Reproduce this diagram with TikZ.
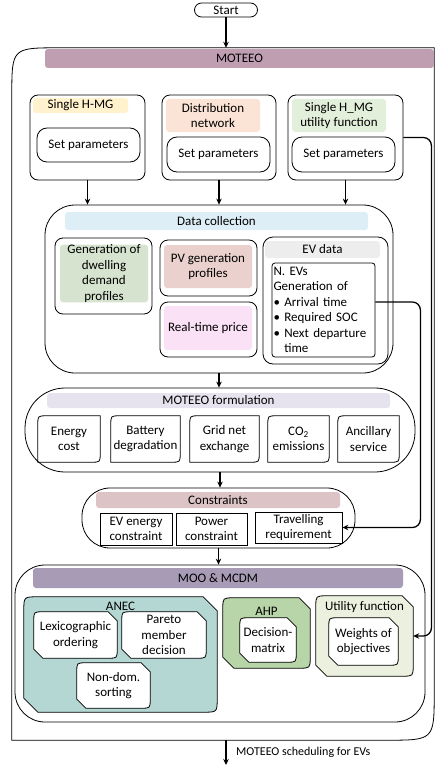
\documentclass[tikz,border=0pt]{standalone}
\usepackage{fontspec}
\setmainfont{Carlito}
\usetikzlibrary{calc,arrows.meta,backgrounds}

\definecolor{moteeoC}{RGB}{192,158,178}
\definecolor{hmgC}{RGB}{255,242,204}
\definecolor{dnC}{RGB}{251,228,213}
\definecolor{ufC}{RGB}{226,239,218}
\definecolor{dcC}{RGB}{222,238,246}
\definecolor{demC}{RGB}{214,227,207}
\definecolor{pvC}{RGB}{234,209,205}
\definecolor{rtpC}{RGB}{250,225,245}
\definecolor{evC}{RGB}{237,237,237}
\definecolor{fmC}{RGB}{230,227,239}
\definecolor{ctC}{RGB}{220,195,198}
\definecolor{mooC}{RGB}{167,155,182}
\definecolor{anecC}{RGB}{181,215,211}
\definecolor{ahpC}{RGB}{183,213,168}
\definecolor{ufnC}{RGB}{235,241,222}

% outline with rounded top-left and bottom-right corners
\newcommand{\rdiag}[3][]{%
  \draw[line width=0.8pt, #1] ($(#2.north west)+(0,#3)$) .. controls (#2.north west) .. ($(#2.north west)+(#3,0)$)
    -- (#2.north east) -- ($(#2.south east)+(0,-#3)$) .. controls (#2.south east) .. ($(#2.south east)+(-#3,0)$)
    -- (#2.south west) -- cycle;}
% outline with rounded top-left/bottom-right and snipped top-right/bottom-left
\newcommand{\snipround}[3][]{%
  \begin{pgfonlayer}{background}
  \filldraw[line width=0.8pt, #1] ($(#2.north west)+(0,#3)$) .. controls (#2.north west) .. ($(#2.north west)+(#3,0)$)
    -- ($(#2.north east)+(-#3,0)$) -- ($(#2.north east)+(0,#3)$)
    -- ($(#2.south east)+(0,-#3)$) .. controls (#2.south east) .. ($(#2.south east)+(-#3,0)$)
    -- ($(#2.south west)+(#3,0)$) -- ($(#2.south west)+(0,-#3)$) -- cycle;
  \end{pgfonlayer}}

\begin{document}
\begin{tikzpicture}[x=1pt, y=-1pt,
  font=\fontsize{13}{15.5}\selectfont,
  box/.style={draw, rounded corners=#1, line width=0.8pt, inner sep=0pt, align=center},
  box/.default=8pt,
  bar/.style={fill=#1, rounded corners=3pt, inner sep=0pt, align=center},
  plain/.style={inner sep=0pt, align=center},
  sz/.style 2 args={minimum width=#1pt, minimum height=#2pt},
  arr/.style={-{Stealth[length=6pt,width=5.5pt]}, line width=1.3pt}
]
\useasboundingbox (0,0) rectangle (434,765);

% Start and outer frame
\node[box=7pt, sz={63}{14}] (start) at (226,10) {Start};
\node[plain, sz={422}{692}] (frame) at (223,394) {};
\rdiag{frame}{48}
\node[bar=moteeoC, sz={389}{19}] (moteeo) at (239.5,58.5) {MOTEEO};
\draw[arr] (start.south) -- (start.south |- frame.north);

% Row of parameter boxes
\node[box, sz={115}{85}] (hmg) at (87.5,137.5) {};
\node[bar=hmgC, sz={95}{15}] (hmgl) at (80.5,105.5) {Single H-MG};
\node[box=10pt, sz={103}{34}] (hmgp) at (88.5,145) {Set parameters};

\node[box, sz={114}{85}] (dn) at (219,137.5) {};
\node[bar=dnC, sz={94}{33}] (dnl) at (213,115.5) {Distribution\\network};
\node[box=10pt, sz={103}{35}] (dnp) at (218.5,154.5) {Set parameters};

\node[box, sz={115}{85}] (uf) at (345.5,137.5) {};
\node[bar=ufC, sz={94}{33}] (ufl) at (339,115.5) {Single H\_MG\\utility function};
\node[box=10pt, sz={103}{35}] (ufp) at (343.5,154.5) {Set parameters};

% Data collection
\node[box=30pt, sz={348}{168}] (dc) at (219,289) {};
\node[bar=dcC, sz={303}{18}] (dct) at (216.5,221) {Data collection};
\node[box, sz={97}{76}] (dem) at (103.5,276) {};
\node[bar=demC, sz={88}{57}] (deml) at (104,273.5) {Generation of\\dwelling\\demand\\profiles};
\node[box, sz={97}{56}] (pv) at (208.5,268) {};
\node[bar=pvC, sz={88}{43}] (pvl) at (208,266.5) {PV generation\\profiles};
\node[box, sz={97}{55}] (rtp) at (208.5,329.5) {};
\node[bar=rtpC, sz={88}{44}] (rtpl) at (208,328) {Real-time price};
\node[box=10pt, sz={125}{127}] (ev) at (325.5,300.5) {};
\node[bar=evC, sz={115}{17}] (evt) at (322.5,249.5) {EV data};
\node[box=3pt, sz={103}{94}, align=left, text width=100pt] (evl) at (323.5,310)
  {N. EVs\\Generation of\\\textbullet\ Arrival time\\\textbullet\ Required SOC\\\textbullet\ Next departure\\\phantom{\textbullet\ }time};

\draw[arr] (hmg.south) -- (hmg.south |- dc.north);
\draw[arr] (dn.south) -- (dn.south |- dc.north);
\draw[arr] (uf.south) -- (uf.south |- dc.north);

% MOTEEO formulation
\node[box=40pt, sz={390}{84}] (fm) at (220,430) {};
\node[bar=fmC, sz={343}{15}] (fmt) at (218.5,400.5) {MOTEEO formulation};
\node[plain, sz={62}{46}] (ec) at (69,439) {Energy\\cost};
\node[plain, sz={69}{46}] (bd) at (145.5,439) {Battery\\degradation};
\node[plain, sz={69}{46}] (gn) at (224.5,439) {Grid net\\exchange};
\node[plain, sz={61}{46}] (co) at (298.5,439) {CO\textsubscript{2}\\emissions};
\node[plain, sz={61}{46}] (an) at (368.5,439) {Ancillary\\service};
\foreach \n in {ec,bd,gn,co,an} {\rdiag{\n}{9}}
\draw[arr] (dc.south) -- (dc.south |- fm.north);

% Constraints
\node[box=28pt, sz={273}{60}] (ct) at (218.5,518) {};
\node[bar=ctC, sz={244}{16}] (ctt) at (218,500) {Constraints};
\node[box=0pt, sz={72}{32}] (eve) at (136,529) {EV energy\\constraint};
\node[box=0pt, sz={71}{32}] (pwc) at (211.5,529) {Power\\constraint};
\node[box=0pt, sz={87}{31}] (trv) at (298.5,527.5) {Travelling\\requirement};
\draw[arr] (fm.south) -- (fm.south |- ct.north);

% MOO & MCDM
\node[box=30pt, sz={410}{157}] (moo) at (220,643.5) {};
\node[bar=mooC, sz={370}{20}] (moot) at (218,578) {MOO \& MCDM};
\node[plain, sz={193}{115}] (anec) at (120.5,654.5) {};
\node[plain] (anecl) at (120.5,606) {ANEC};
\node[plain, sz={83}{46}] (lex) at (75.5,635) {Lexicographic\\ordering};
\node[plain, sz={84}{46}] (par) at (164,635) {Pareto\\member\\decision};
\node[plain, sz={73}{45}] (ndm) at (113.5,685.5) {Non-dom.\\sorting};
\node[plain, sz={87}{70}] (ahp) at (266.5,633) {};
\node[plain] (ahpl) at (266.5,611) {AHP};
\node[plain, sz={56}{44}] (dcm) at (268,640) {Decision-\\matrix};
\node[plain, sz={97}{80}] (ufn) at (364.5,636) {};
\node[plain] (ufnl) at (364.5,607) {Utility function};
\node[plain, sz={69}{47}] (wgt) at (363.5,641.5) {Weights of\\objectives};
\snipround[fill=anecC]{anec}{14}
\snipround[fill=white]{lex}{9}
\snipround[fill=white]{par}{9}
\snipround[fill=white]{ndm}{9}
\snipround[fill=ahpC]{ahp}{11}
\snipround[fill=white]{dcm}{9}
\snipround[fill=ufnC]{ufn}{11}
\snipround[fill=white]{wgt}{9}
\draw[arr] (ct.south) -- (ct.south |- moo.north);

% side connectors
\draw[arr, rounded corners=8pt] ([yshift=8pt]evl.east) -- ++(45,0) |- (trv.east);
\draw[arr, rounded corners=8pt] (uf.east) -- ++(28,0) |- (ufn.east);

% output
\coordinate (out) at (226,765);
\draw[arr] (out |- frame.south) -- (out);
\node[plain, anchor=west, font=\fontsize{12}{14}\selectfont] (outl) at (236,752) {MOTEEO scheduling for EVs};
\end{tikzpicture}
\end{document}
